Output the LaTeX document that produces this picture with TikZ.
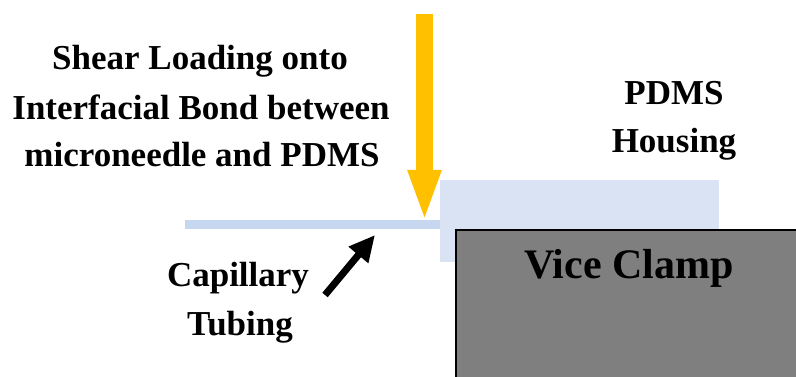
\documentclass[tikz,border=0pt]{standalone}
\usepackage{fontspec}
\setmainfont{Liberation Serif}
\usetikzlibrary{arrows.meta}
\definecolor{loadyellow}{HTML}{FFC000}
\definecolor{housingblue}{HTML}{DAE3F3}
\definecolor{tubeblue}{HTML}{C6D7EF}
\definecolor{clampgray}{HTML}{7F7F7F}
\tikzset{
  lbl/.style={anchor=base, inner sep=0pt, font=\bfseries\fontsize{35}{40}\selectfont},
  biglbl/.style={anchor=base, inner sep=0pt, font=\bfseries\fontsize{42}{48}\selectfont},
  loadarrow/.style={draw=loadyellow, line width=17pt, -{Triangle[width=30pt,length=52pt]}},
  pointarrow/.style={draw=black, line width=7pt, -{Triangle[width=24pt,length=26pt]}},
}
\begin{document}
\begin{tikzpicture}[x=1pt,y=-1pt]
\useasboundingbox (0,0) rectangle (796,377);
% PDMS housing
\fill[housingblue] (440,180) rectangle (719,262);
% capillary tubing
\fill[tubeblue] (185,220) rectangle (440,229);
% vice clamp
\draw[fill=clampgray, line width=2pt] (456,230) rectangle (810,390);
% labels
\node[lbl] (s1) at (200,70) {Shear Loading onto};
\node[lbl] (s2) at (201,120) {Interfacial Bond between};
\node[lbl] (s3) at (202,167) {microneedle and PDMS};
\node[lbl] (p1) at (674,105) {PDMS};
\node[lbl] (p2) at (674,153) {Housing};
\node[lbl] (c1) at (238,287) {Capillary};
\node[lbl] (c2) at (240,335) {Tubing};
\node[biglbl] (v) at (629,278) {Vice Clamp};
% arrows
\coordinate (loadtop) at (424.5,14);
\coordinate (loadtip) at (424.5,222);
\draw[loadarrow] (loadtop) -- (loadtip);
\coordinate (ptail) at (325,295);
\coordinate (ptip) at (375,235);
\draw[pointarrow] (ptail) -- (ptip);
\end{tikzpicture}
\end{document}
